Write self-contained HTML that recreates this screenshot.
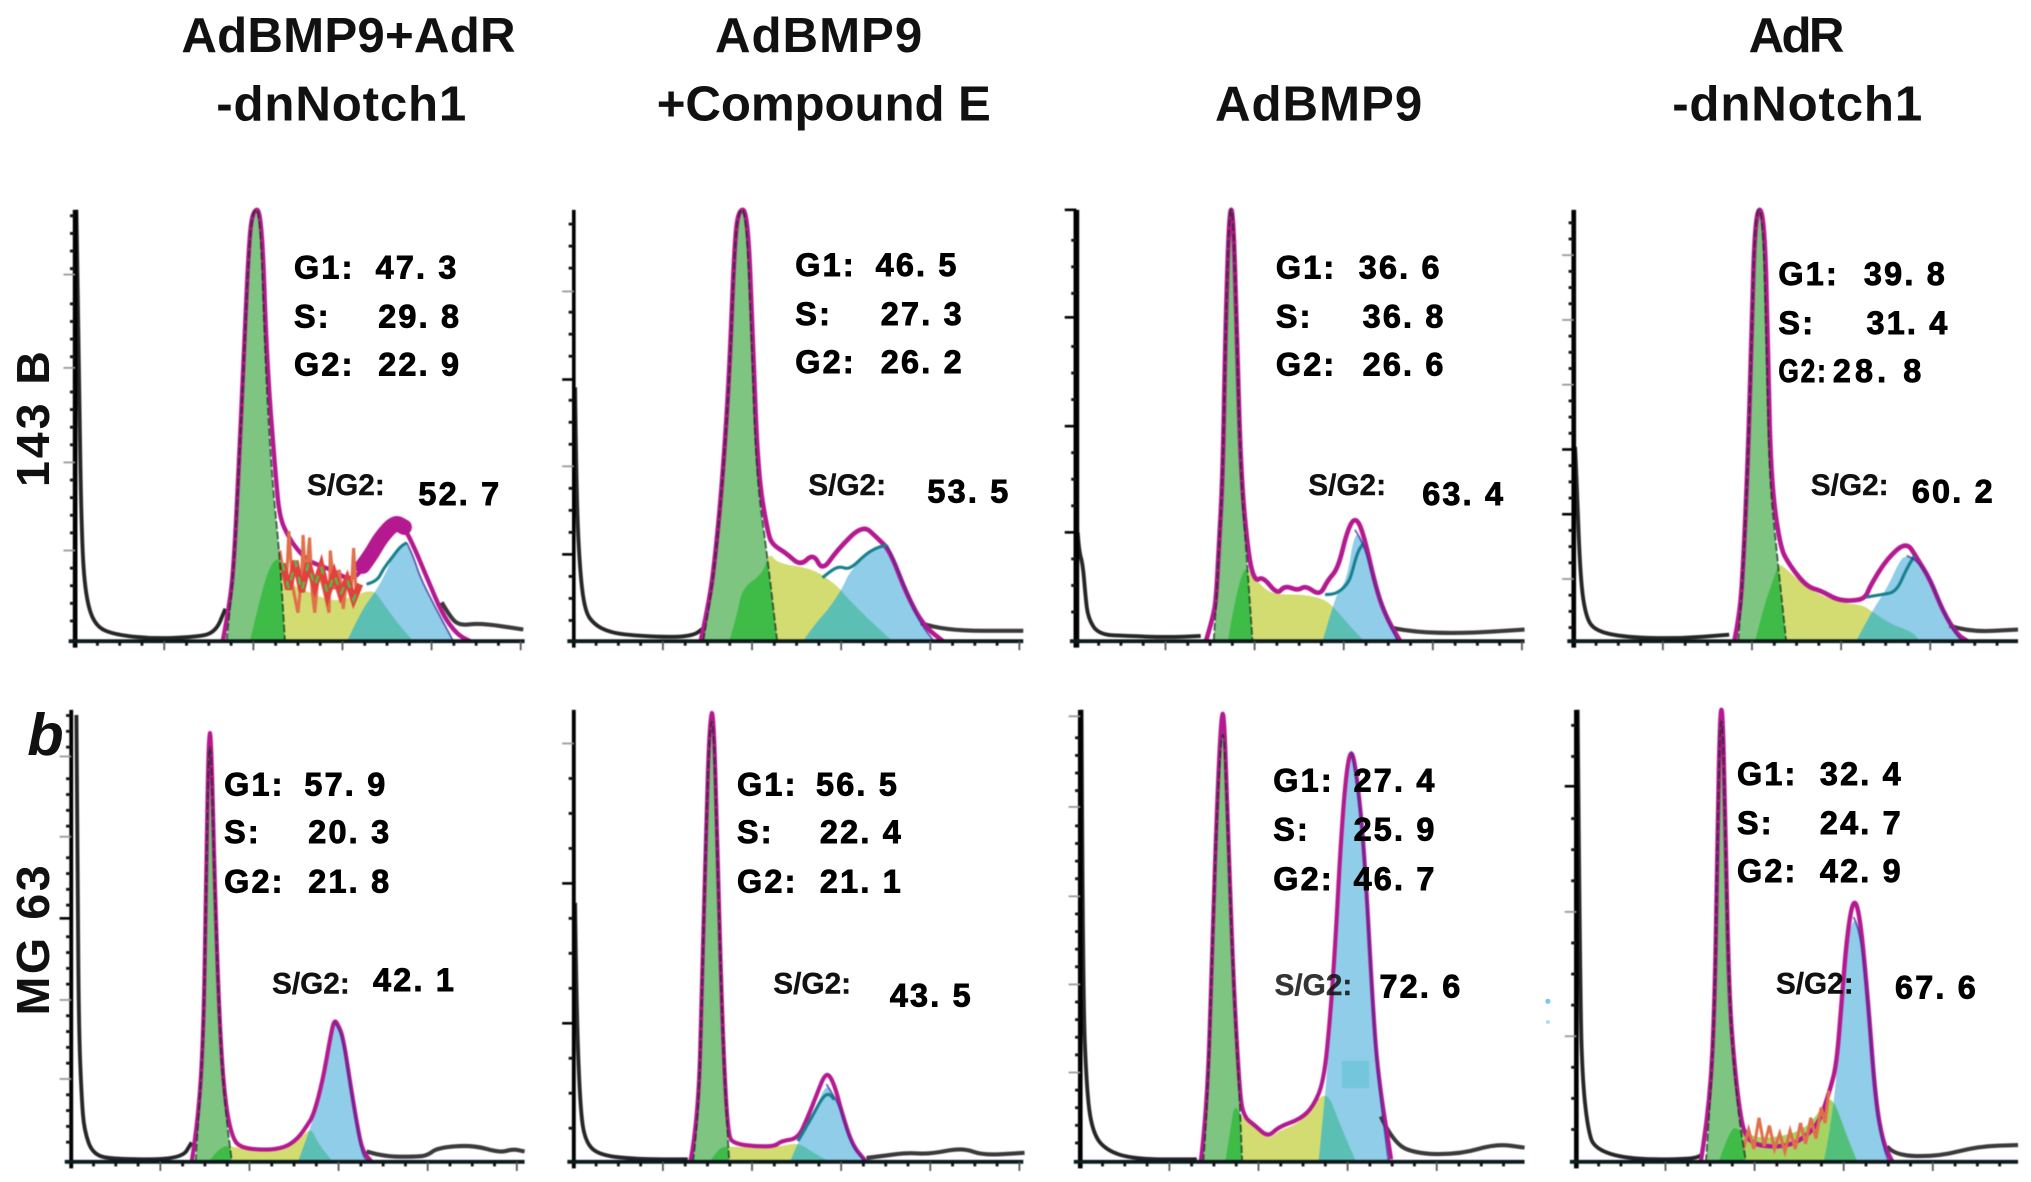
<!DOCTYPE html>
<html lang="en">
<head>
<meta charset="utf-8">
<title>Cell cycle flow cytometry histograms</title>
<style>
html,body{margin:0;padding:0;background:#fff;}
svg{display:block;}
.title{font:bold 38px "Liberation Sans",sans-serif;fill:#111;}
.stat{font:bold 25px "Liberation Sans",sans-serif;fill:#000;stroke:#000;stroke-width:.7px;letter-spacing:1.7px;}
.sg{font:bold 23px "Liberation Sans",sans-serif;fill:#111;stroke:#111;stroke-width:.3px;}
.row{font:bold 36px "Liberation Sans",sans-serif;fill:#111;}
#plots{filter:blur(.5px);}
</style>
</head>
<body>
<svg xmlns="http://www.w3.org/2000/svg" width="2031" height="1182" viewBox="0 0 1568 912.54">
<rect width="1568" height="913" fill="#fff"/>
<g id="plots"></g>

<g>
<text class="title" x="140" y="40" textLength="258">AdBMP9+AdR</text>
<text class="title" x="167" y="93" textLength="193">-dnNotch1</text>
<text class="title" x="552" y="40" textLength="160">AdBMP9</text>
<text class="title" x="507" y="93" textLength="258">+Compound E</text>
<text class="title" x="938" y="93" textLength="160">AdBMP9</text>
<text class="title" x="1350" y="40" textLength="74">AdR</text>
<text class="title" x="1291" y="93" textLength="193">-dnNotch1</text>
</g>

<g>
<text class="row" transform="translate(38,376) rotate(-90)" textLength="105">143 B</text>
<text class="row" transform="translate(38,784) rotate(-90)" textLength="116">MG 63</text>
<text x="21" y="583" style="font:italic bold 46px 'Liberation Sans',sans-serif" fill="#111">b</text>
</g>

<g>
<text class="stat" x="227" y="215">G1:</text><text class="stat" x="290" y="215">47. 3</text>
<text class="stat" x="227" y="253">S:</text><text class="stat" x="292" y="253">29. 8</text>
<text class="stat" x="227" y="290">G2:</text><text class="stat" x="292" y="290">22. 9</text>
<text class="sg" x="237" y="382">S/G2:</text><text class="stat" x="323" y="390">52. 7</text>
</g>
<g>
<text class="stat" x="614" y="213">G1:</text><text class="stat" x="676" y="213">46. 5</text>
<text class="stat" x="614" y="251">S:</text><text class="stat" x="680" y="251">27. 3</text>
<text class="stat" x="614" y="288">G2:</text><text class="stat" x="680" y="288">26. 2</text>
<text class="sg" x="624" y="382">S/G2:</text><text class="stat" x="716" y="388">53. 5</text>
</g>
<g>
<text class="stat" x="985" y="215">G1:</text><text class="stat" x="1049" y="215">36. 6</text>
<text class="stat" x="985" y="253">S:</text><text class="stat" x="1052" y="253">36. 8</text>
<text class="stat" x="985" y="290">G2:</text><text class="stat" x="1052" y="290">26. 6</text>
<text class="sg" x="1010" y="382">S/G2:</text><text class="stat" x="1098" y="390">63. 4</text>
</g>
<g>
<text class="stat" x="1373" y="220">G1:</text><text class="stat" x="1439" y="220">39. 8</text>
<text class="stat" x="1373" y="258">S:</text><text class="stat" x="1441" y="258">31. 4</text>
<text class="stat" x="1373" y="295" textLength="38" lengthAdjust="spacingAndGlyphs">G2:</text><text class="stat" x="1415" y="295" textLength="70">28. 8</text>
<text class="sg" x="1398" y="382">S/G2:</text><text class="stat" x="1476" y="388">60. 2</text>
</g>
<g>
<text class="stat" x="173" y="614">G1:</text><text class="stat" x="235" y="614">57. 9</text>
<text class="stat" x="173" y="651">S:</text><text class="stat" x="238" y="651">20. 3</text>
<text class="stat" x="173" y="689">G2:</text><text class="stat" x="238" y="689">21. 8</text>
<text class="sg" x="210" y="767">S/G2:</text><text class="stat" x="288" y="765">42. 1</text>
</g>
<g>
<text class="stat" x="569" y="614">G1:</text><text class="stat" x="630" y="614">56. 5</text>
<text class="stat" x="569" y="651">S:</text><text class="stat" x="633" y="651">22. 4</text>
<text class="stat" x="569" y="689">G2:</text><text class="stat" x="633" y="689">21. 1</text>
<text class="sg" x="597" y="767">S/G2:</text><text class="stat" x="687" y="777">43. 5</text>
</g>
<g>
<text class="stat" x="983" y="611">G1:</text><text class="stat" x="1045" y="611">27. 4</text>
<text class="stat" x="983" y="649">S:</text><text class="stat" x="1045" y="649">25. 9</text>
<text class="stat" x="983" y="687">G2:</text><text class="stat" x="1045" y="687">46. 7</text>
<text class="sg" x="984" y="768" opacity="0.85">S/G2:</text><text class="stat" x="1065" y="770">72. 6</text>
</g>
<g>
<text class="stat" x="1341" y="606">G1:</text><text class="stat" x="1405" y="606">32. 4</text>
<text class="stat" x="1341" y="644">S:</text><text class="stat" x="1405" y="644">24. 7</text>
<text class="stat" x="1341" y="681">G2:</text><text class="stat" x="1405" y="681">42. 9</text>
<text class="sg" x="1371" y="767">S/G2:</text><text class="stat" x="1463" y="771">67. 6</text>
</g>
<circle cx="1195" cy="773" r="2" fill="#7cc8f0"/>
<circle cx="1195" cy="789" r="1.5" fill="#a8def5"/>

<script>
// Histogram readings: [channel, count]
const p1G1 = [[117,0],[120,30],[123,65],[126,125],[130,210],[134,300],[137,333],[143,333],[147,210],[152,125],[158,66],[162,0]];
const p1S = [[135,0],[142,30],[150,58],[158,66],[165,45],[175,40],[200,30],[215,35],[230,40],[236,32],[248,15],[261,0]];
const p1G2 = [[210,0],[220,22],[233,40],[241,55],[248,72],[256,76],[261,66],[266,50],[277,28],[292,0]];
const p1Fit = [[114,0],[120,32],[123,68],[126,127],[130,215],[134,305],[137,333],[144,333],[148,215],[155,125],[158,95],[165,80],[172,70],[180,62],[190,58],[200,54],[210,48],[218,50],[228,66],[238,80],[247,95],[254,88],[262,72],[272,48],[284,20],[295,5],[305,0]];
const p1Band = [[222,58],[228,66],[236,80],[247,92],[254,88]];
const p1Mid = [[225,44],[233,46],[238,56],[245,65],[251,73],[256,76]];
const p1Left = [[1,333],[3,200],[5,80],[8,35],[15,12],[30,5],[60,2],[90,3],[108,6],[116,25]];
const p1Right = [[283,30],[290,18],[297,12],[313,14],[346,9]];
const p1Noise = [[158,70],[163,40],[165,85],[168,42],[172,22],[175,50],[176,82],[178,45],[181,80],[183,38],[185,22],[188,55],[192,40],[196,22],[197,70],[200,40],[204,55],[207,25],[210,50],[213,35],[215,72],[217,35],[220,40]];
const p1NoiseCore = [[160,60],[165,40],[170,62],[175,38],[180,60],[185,42],[190,58],[195,36],[200,52],[205,36],[210,48],[215,32],[220,44]];
const p1YMajor = [70,138,211,283];
const p1YBold = [];

const p2G1 = [[100,0],[105,30],[110,70],[115,126],[120,200],[124,300],[127,333],[133,333],[137,240],[141,126],[149,69],[157,0]];
const p2S = [[120,0],[126,20],[130,41],[146,52],[151,69],[157,60],[185,56],[203,43],[208,37],[221,23],[246,0]];
const p2G2 = [[177,0],[186,13],[197,25],[208,42],[212,52],[226,68],[236,73],[242,74],[250,55],[258,35],[268,13],[278,0]];
const p2Fit = [[98,0],[105,32],[110,73],[115,128],[120,205],[124,305],[127,333],[134,333],[138,240],[142,130],[150,82],[154,74],[164,68],[175,58],[185,68],[192,54],[203,70],[223,90],[234,80],[244,70],[257,36],[270,12],[285,0]];
const p2Band = [];
const p2Mid = [[192,49],[198,54],[205,58],[213,55],[226,68],[236,73],[242,74]];
const p2Left = [[1,196],[2,110],[5,50],[9,22],[16,13],[25,8],[38,5],[70,3],[92,4],[100,10]];
const p2Right = [[268,14],[285,8],[347,8]];
const p2Noise = [];
const p2NoiseCore = [];
const p2YMajor = [67,135,202,270];
const p2YBold = [67,202];

const p3G1 = [[106,0],[108,30],[110,70],[113,126],[115,230],[118,333],[121,333],[124,230],[127,126],[132,58],[136,0]];
const p3S = [[117,0],[122,30],[129,56],[133,55],[145,40],[155,36],[175,36],[190,33],[198,27],[210,13],[222,0]];
const p3G2 = [[190,0],[198,27],[202,38],[209,48],[215,86],[222,76],[232,38],[240,17],[248,0]];
const p3Fit = [[100,0],[106,20],[108,35],[110,72],[113,128],[115,235],[118,333],[121,333],[124,235],[127,128],[133,64],[138,46],[144,50],[155,36],[161,43],[171,39],[177,43],[188,35],[194,47],[202,56],[209,85],[215,96],[221,86],[232,38],[240,17],[250,0]];
const p3Band = [];
const p3Mid = [[192,36],[198,36],[204,39],[209,44],[212,50],[217,69],[222,76]];
const p3Left = [[1,84],[2,70],[5,59],[7,35],[9,18],[17,5],[40,4],[70,3],[96,4]];
const p3Right = [[245,10],[260,7],[300,6],[346,9]];
const p3Noise = [];
const p3NoiseCore = [];
const p3YMajor = [84,166,250,333];
const p3YBold = [84,166,250,333];

const p4G1 = [[127,0],[130,40],[134,126],[137,220],[140,333],[146,333],[149,220],[151,126],[157,66],[164,0]];
const p4S = [[140,0],[147,28],[155,50],[158,60],[164,56],[180,41],[203,30],[223,28],[230,23],[245,13],[262,7],[267,0]];
const p4G2 = [[218,0],[230,23],[242,41],[252,63],[257,66],[265,63],[275,48],[285,23],[296,4],[300,0]];
const p4Fit = [[124,0],[127,15],[130,42],[134,128],[137,225],[140,333],[147,333],[150,225],[152,128],[159,73],[167,58],[180,42],[191,39],[203,32],[215,31],[225,33],[229,43],[242,64],[257,77],[265,64],[275,48],[285,23],[296,5],[304,0]];
const p4Band = [];
const p4Mid = [[226,34],[238,36],[249,38],[257,56],[263,66]];
const p4Left = [[1,150],[2,130],[5,50],[9,20],[16,8],[40,3],[80,2],[120,5]];
const p4Right = [[290,12],[305,7],[343,9]];
const p4Noise = [];
const p4NoiseCore = [];
const p4YMajor = [48,98,148,198,248,298];
const p4YBold = [98,148];

const p5G1 = [[96,0],[98,30],[102,94],[104,200],[106,320],[108,320],[111,200],[115,94],[119,40],[124,0]];
const p5S = [[106,0],[115,12],[124,12],[140,9],[165,10],[175,16],[185,27],[190,15],[202,0]];
const p5G2 = [[175,0],[187,32],[194,60],[200,94],[203,108],[206,104],[210,94],[216,55],[221,25],[225,5],[229,0]];
const p5Fit = [[93,0],[98,32],[102,96],[104,205],[106,330],[108,332],[111,205],[115,96],[119,45],[124,20],[130,11],[150,9],[165,11],[175,18],[182,28],[187,36],[194,62],[200,96],[203,110],[206,106],[210,96],[216,57],[221,27],[225,8],[232,0]];
const p5Band = [];
const p5Mid = [];
const p5Left = [[4,345],[5,200],[6,99],[8,50],[10,24],[17,5],[35,2],[85,2],[93,15]];
const p5Right = [[228,8],[241,4],[267,4],[275,5],[283,11],[310,13],[331,7],[341,10],[350,8]];
const p5Noise = [];
const p5NoiseCore = [];
const p5YMajor = [64,125,188,251,313];
const p5YBold = [188];

const p6G1 = [[92,0],[96,30],[99,130],[102,250],[105,340],[108,340],[111,230],[115,94],[119,17],[120,0]];
const p6S = [[105,0],[112,11],[120,12],[140,11],[160,12],[173,15],[185,7],[198,0]];
const p6G2 = [[167,0],[173,15],[181,30],[188,45],[195,60],[200,52],[205,43],[210,27],[215,12],[225,0]];
const p6Fit = [[90,0],[96,32],[99,135],[102,255],[105,345],[108,348],[111,235],[115,96],[119,20],[124,14],[140,12],[155,12],[160,16],[173,18],[180,33],[188,53],[193,66],[197,68],[202,57],[207,38],[215,13],[225,1]];
const p6Band = [];
const p6Mid = [[173,16],[183,33],[192,50],[197,53],[201,48]];
const p6Left = [[1,200],[2,120],[5,40],[9,15],[20,5],[50,2],[88,2]];
const p6Right = [[226,3],[242,5],[257,7],[275,6],[300,11],[316,5],[348,7]];
const p6Noise = [];
const p6NoiseCore = [];
const p6YMajor = [107,215,323];
const p6YBold = [107,215];

const p7G1 = [[95,0],[98,37],[102,166],[106,282],[109,330],[111,330],[113,282],[118,140],[123,50],[125,0]];
const p7S = [[112,0],[116,25],[119,45],[124,35],[135,27],[145,17],[153,24],[170,30],[184,50],[192,52],[200,30],[213,0]];
const p7G2 = [[184,0],[190,60],[193,110],[197,166],[201,240],[205,295],[209,317],[213,300],[219,243],[226,115],[230,63],[238,0]];
const p7Fit = [[93,0],[98,40],[102,170],[106,288],[109,346],[111,346],[113,290],[118,145],[123,55],[126,35],[135,28],[145,19],[153,27],[170,33],[180,43],[188,62],[193,112],[197,170],[201,245],[205,298],[209,320],[213,303],[219,246],[226,118],[230,66],[240,2]];
const p7Band = [];
const p7Mid = [];
const p7Left = [[1,349],[2,130],[5,55],[9,25],[18,10],[40,2],[90,2]];
const p7Right = [[232,35],[242,14],[261,6],[294,6],[321,14],[343,11]];
const p7Noise = [];
const p7NoiseCore = [];
const p7YMajor = [69,137,205,274,344];
const p7YBold = [];

const p8G1 = [[100,0],[103,40],[107,125],[109,250],[111,340],[113,340],[115,250],[118,125],[122,70],[126,30],[131,0]];
const p8S = [[110,0],[119,27],[126,25],[140,18],[160,20],[175,25],[185,35],[194,50],[200,45],[208,22],[217,0]];
const p8G2 = [[191,0],[196,25],[201,66],[205,125],[209,170],[214,189],[219,180],[225,125],[231,45],[237,12],[241,0]];
const p8Fit = [[96,0],[103,42],[107,127],[109,255],[111,349],[113,349],[115,255],[118,127],[122,75],[126,40],[130,20],[140,12],[165,12],[180,22],[188,32],[196,56],[201,76],[205,127],[209,175],[214,205],[219,190],[225,127],[231,47],[237,14],[244,0]];
const p8Band = [];
const p8Mid = [];
const p8Left = [[1,349],[3,120],[5,60],[9,25],[14,10],[40,2],[90,2],[98,6]];
const p8Right = [[240,12],[245,5],[279,4],[310,12],[341,13]];
const p8Noise = [[129,10],[133,25],[137,10],[141,34],[145,12],[149,28],[153,10],[157,22],[161,8],[165,24],[169,10],[173,30],[177,14],[181,34],[185,18],[189,42],[192,30],[195,55]];
const p8NoiseCore = [];
const p8YMajor = [97,193,290];
const p8YBold = [290];

const seriesG1 = [p1G1,p2G1,p3G1,p4G1,p5G1,p6G1,p7G1,p8G1];
const seriesS = [p1S,p2S,p3S,p4S,p5S,p6S,p7S,p8S];
const seriesG2 = [p1G2,p2G2,p3G2,p4G2,p5G2,p6G2,p7G2,p8G2];
const seriesFit = [p1Fit,p2Fit,p3Fit,p4Fit,p5Fit,p6Fit,p7Fit,p8Fit];
const seriesBand = [p1Band,p2Band,p3Band,p4Band,p5Band,p6Band,p7Band,p8Band];
const seriesMid = [p1Mid,p2Mid,p3Mid,p4Mid,p5Mid,p6Mid,p7Mid,p8Mid];
const seriesLeft = [p1Left,p2Left,p3Left,p4Left,p5Left,p6Left,p7Left,p8Left];
const seriesRight = [p1Right,p2Right,p3Right,p4Right,p5Right,p6Right,p7Right,p8Right];
const seriesNoise = [p1Noise,p2Noise,p3Noise,p4Noise,p5Noise,p6Noise,p7Noise,p8Noise];
const seriesNoiseCore = [p1NoiseCore,p2NoiseCore,p3NoiseCore,p4NoiseCore,p5NoiseCore,p6NoiseCore,p7NoiseCore,p8NoiseCore];
const yMajorTicks = [p1YMajor,p2YMajor,p3YMajor,p4YMajor,p5YMajor,p6YMajor,p7YMajor,p8YMajor];
const yBoldTicks = [p1YBold,p2YBold,p3YBold,p4YBold,p5YBold,p6YBold,p7YBold,p8YBold];

// Axis domains
const channelMaxByPanel = [347,347,346,343,350,347,343,341];
const countMaxByPanel = [333,333,333,333,349,349,349,349];
const minorPerMajor = [5,4,4,4,5,4,5,4];
const channelTickStep = 17.2;

// Panel frames
const frames = [
  {left:58,right:405,base:495,top:162,fitWidth:3.4,axisWidth:3.6,sFill:'#d2dc70',tealFill:'#5cbfb4'},
  {left:443,right:790,base:495,top:162,fitWidth:3.6,axisWidth:2.8,sFill:'#d2dc70',tealFill:'#5cbfb4'},
  {left:831,right:1177,base:495,top:162,fitWidth:3.6,axisWidth:4.4,sFill:'#d2dc70',tealFill:'#5cbfb4'},
  {left:1215,right:1558,base:495,top:162,fitWidth:3.6,axisWidth:3.6,sFill:'#d2dc70',tealFill:'#5cbfb4'},
  {left:55,right:405,base:897,top:548,fitWidth:3.2,axisWidth:3,sFill:'#d2dc70',tealFill:'#5cbfb4'},
  {left:443,right:790,base:897,top:548,fitWidth:3.2,axisWidth:3,sFill:'#d2dc70',tealFill:'#5cbfb4'},
  {left:834,right:1177,base:897,top:548,fitWidth:3.2,axisWidth:3.6,sFill:'#d2dc70',tealFill:'#5cbfb4'},
  {left:1217,right:1558,base:897,top:548,fitWidth:3.4,axisWidth:3.6,sFill:'#a5d462',tealFill:'#52c07a'}
];

const NS = 'http://www.w3.org/2000/svg';
const plots = document.getElementById('plots');

function make(tag, parent, attrs) {
  const el = document.createElementNS(NS, tag);
  for (const k in attrs) el.setAttribute(k, attrs[k]);
  parent.appendChild(el);
  return el;
}

frames.forEach(function (f, i) {
  const channelMax = channelMaxByPanel[i];
  const countMax = countMaxByPanel[i];
  const xScale = function (c) { return f.left + c * (f.right - f.left) / channelMax; };
  const yScale = function (v) { return f.base - v * (f.base - f.top) / countMax; };
  const linePath = function (pts) {
    return pts.map(function (p, j) { return (j ? 'L' : 'M') + xScale(p[0]).toFixed(1) + ' ' + yScale(p[1]).toFixed(1); }).join(' ');
  };
  const curvePath = function (pts) {
    if (pts.length < 3) return linePath(pts);
    let d = 'M' + xScale(pts[0][0]).toFixed(1) + ' ' + yScale(pts[0][1]).toFixed(1);
    for (let j = 1; j < pts.length - 1; j++) {
      const mx = (pts[j][0] + pts[j + 1][0]) / 2;
      const my = (pts[j][1] + pts[j + 1][1]) / 2;
      d += ' Q' + xScale(pts[j][0]).toFixed(1) + ' ' + yScale(pts[j][1]).toFixed(1) + ' ' + xScale(mx).toFixed(1) + ' ' + yScale(my).toFixed(1);
    }
    const last = pts[pts.length - 1];
    return d + ' L' + xScale(last[0]).toFixed(1) + ' ' + yScale(last[1]).toFixed(1);
  };
  const areaPath = function (pts) {
    return curvePath(pts) + ' L' + xScale(pts[pts.length - 1][0]).toFixed(1) + ' ' + yScale(0) + ' L' + xScale(pts[0][0]).toFixed(1) + ' ' + yScale(0) + ' Z';
  };

  const g = make('g', plots, {});
  
  

  const clipG1 = make('clipPath', g, {id: 'clip-g1-' + i});
  make('path', clipG1, {d: areaPath(seriesG1[i])});
  const clipG2 = make('clipPath', g, {id: 'clip-g2-' + i});
  make('path', clipG2, {d: areaPath(seriesG2[i])});

  const sArea = make('path', g, {d: areaPath(seriesS[i]), fill: f.sFill});
  
  

  const g1Area = make('path', g, {d: areaPath(seriesG1[i]), fill: '#7dc580'});
  
  

  const g2Area = make('path', g, {d: areaPath(seriesG2[i]), fill: '#8fcde8'});
  
  

  const overlapG1 = make('path', g, {d: areaPath(seriesS[i]), fill: '#3fbb48', 'clip-path': 'url(#clip-g1-' + i + ')'});
  
  

  const overlapG2 = make('path', g, {d: areaPath(seriesS[i]), fill: f.tealFill, 'clip-path': 'url(#clip-g2-' + i + ')'});
  
  

  const leftTrace = make('path', g, {d: curvePath(seriesLeft[i]), fill: 'none', stroke: '#262626', 'stroke-width': 3});
  
  

  const rightTrace = make('path', g, {d: curvePath(seriesRight[i]), fill: 'none', stroke: '#3a3a3a', 'stroke-width': 3.2});
  
  

  const fit = make('path', g, {d: curvePath(seriesFit[i]), fill: 'none', stroke: '#b5198f', 'stroke-width': f.fitWidth, 'stroke-linejoin': 'round'});
  
  

  if (seriesBand[i].length) {
    const band = make('path', g, {d: curvePath(seriesBand[i]), fill: 'none', stroke: '#b5198f', 'stroke-width': 12, 'stroke-linejoin': 'round', 'stroke-linecap': 'round'});
    
    
  }

  if (seriesMid[i].length) {
    const mid = make('path', g, {d: curvePath(seriesMid[i]), fill: 'none', stroke: '#17808f', 'stroke-width': 2.4});
    
    
  }

  if (seriesNoise[i].length) {
    const noise = make('path', g, {d: linePath(seriesNoise[i]), fill: 'none', stroke: '#e0704a', 'stroke-width': 2.4});
    
    
  }

  if (seriesNoiseCore[i].length) {
    const noiseCore = make('path', g, {d: linePath(seriesNoiseCore[i]), fill: 'none', stroke: '#e2403c', 'stroke-width': 5});
    
    
    const noiseGreen = make('path', g, {d: linePath(seriesNoiseCore[i]), fill: 'none', stroke: '#58b848', 'stroke-width': 2, 'stroke-dasharray': '6 8'});
    
    
  }

  const g1Edge = make('path', g, {d: curvePath(seriesG1[i]), fill: 'none', stroke: '#14321c', 'stroke-width': 1.4, opacity: 0.75, 'stroke-dasharray': '6 2'});
  
  

  const peakIndex = seriesG2[i].reduce(function (best, p, j, arr) { return p[1] > arr[best][1] ? j : best; }, 0);
  const g2Edge = make('path', g, {d: curvePath(seriesG2[i].slice(peakIndex)), fill: 'none', stroke: '#40309a', 'stroke-width': 1.4, opacity: 0.75});
  
  

  const yAxis = make('line', g, {x1: f.left, x2: f.left, y1: f.top, y2: f.base + 5, stroke: '#000', 'stroke-width': f.axisWidth});
  
  

  const xAxis = make('line', g, {x1: f.left - 5, x2: f.right, y1: f.base, y2: f.base, stroke: '#0c1a1c', 'stroke-width': 3});
  
  

  for (let k = 1; k * channelTickStep <= channelMax; k++) {
    const major = k % 4 === 0;
    const c = k * channelTickStep;
    const tick = make('line', g, {x1: xScale(c), x2: xScale(c), y1: f.base, y2: f.base + (major ? 7 : 3.5), stroke: major ? '#555' : '#111', 'stroke-width': major ? 1.4 : 2.2});
    
    
  }

  const majors = yMajorTicks[i];
  const bolds = yBoldTicks[i];
  majors.forEach(function (v) {
    const bold = bolds.indexOf(v) >= 0;
    const tick = make('line', g, {x1: f.left - 9, x2: f.left, y1: yScale(v), y2: yScale(v), stroke: bold ? '#000' : '#999', 'stroke-width': bold ? 2 : 1.4});
    
    
  });
  const minorStep = (majors[1] - majors[0]) / minorPerMajor[i];
  const anchor = majors[0] % minorStep;
  for (let k = 0; anchor + k * minorStep <= countMax; k++) {
    const v = anchor + k * minorStep;
    if (v < 3) continue;
    if (k % minorPerMajor[i] === Math.round((majors[0] - anchor) / minorStep) % minorPerMajor[i]) continue;
    const tick = make('line', g, {x1: f.left - 4, x2: f.left, y1: yScale(v), y2: yScale(v), stroke: '#111', 'stroke-width': 2.2});
    
    
  }
});

// Lighter block artefact inside the AdBMP9 MG 63 G2 peak
const block = make('rect', plots, {x: 1036, y: 819, width: 21, height: 21, fill: '#74c6dc'});


</script>
</svg>
</body>
</html>
